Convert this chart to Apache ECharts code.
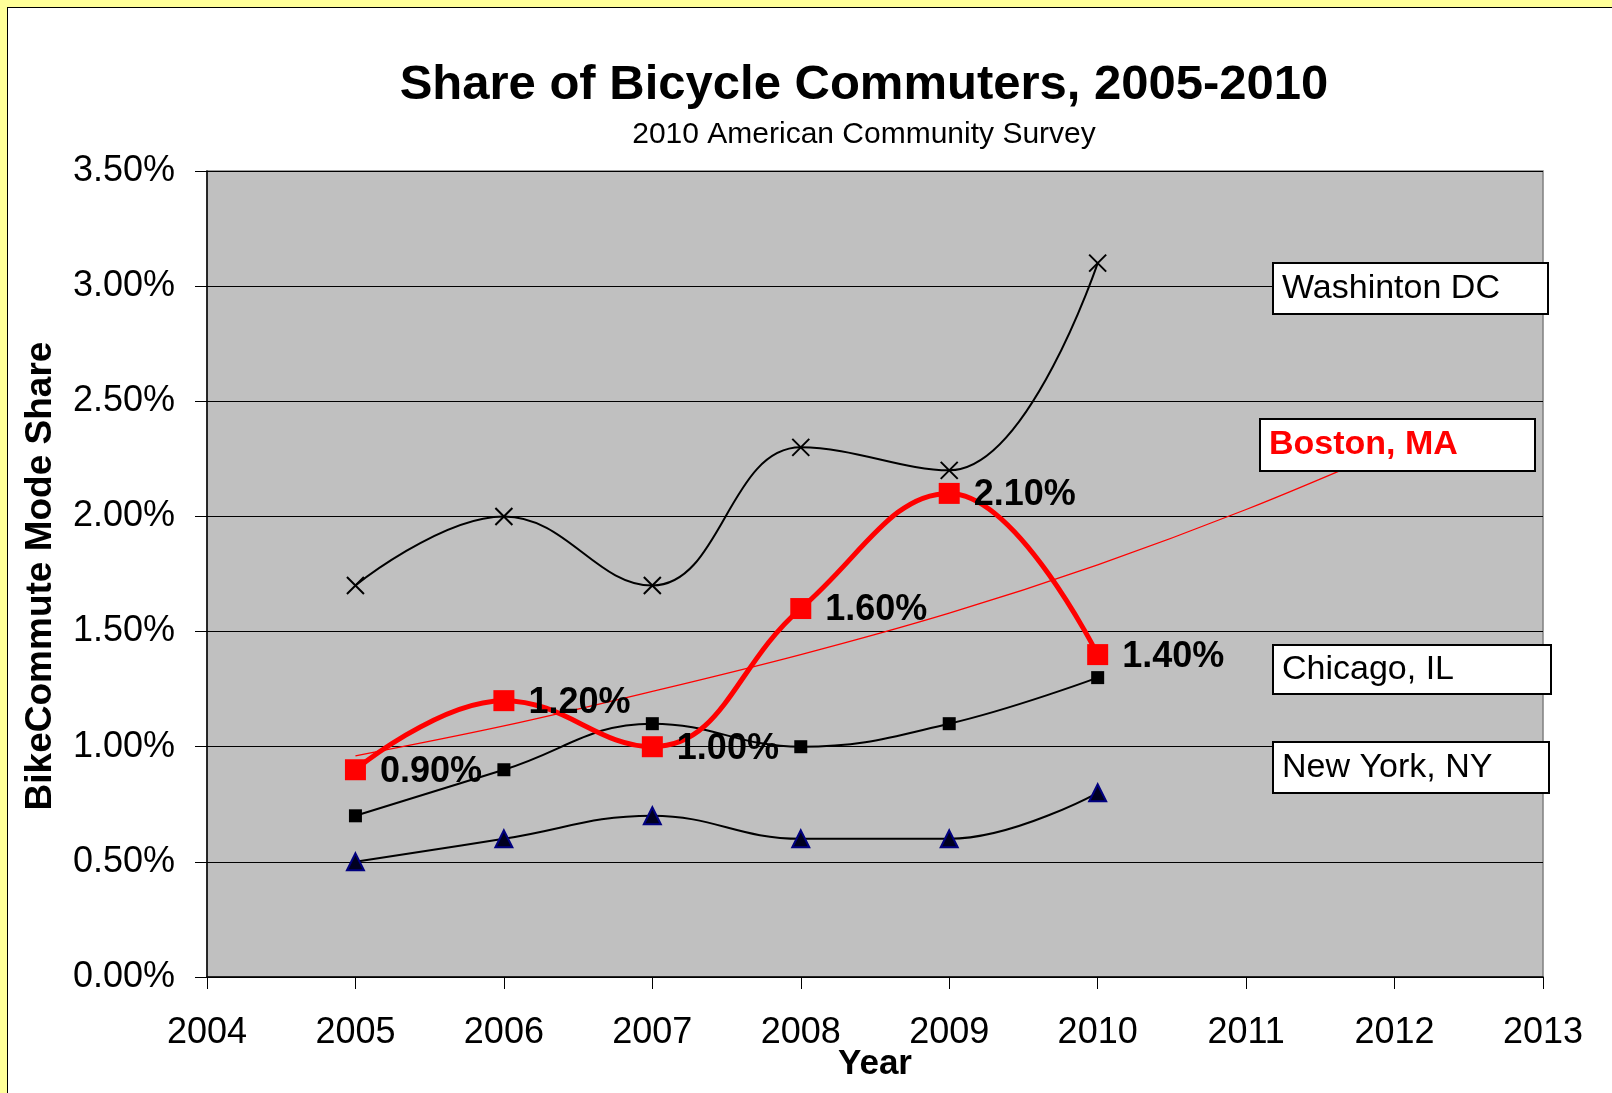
<!DOCTYPE html>
<html>
<head>
<meta charset="utf-8">
<title>Share of Bicycle Commuters, 2005-2010</title>
<script src="https://cdn.jsdelivr.net/npm/echarts@6/dist/echarts.min.js"></script>
<style>
  html, body { margin: 0; padding: 0; width: 1612px; height: 1093px; overflow: hidden; background: #FFFF99; }
  #frame { position: absolute; left: 7px; top: 7px; width: 1700px; height: 1200px; background: #fff;
           border-left: 1.5px solid #000; border-top: 1.5px solid #000; }
  #main { position: absolute; left: 0; top: 0; width: 1612px; height: 1093px; }
</style>
</head>
<body>
<div id="frame"></div>
<div id="main"></div>
<script>
// data (values in %)
const years = [2005, 2006, 2007, 2008, 2009, 2010];
const washington = [1.7, 2.0, 1.7, 2.3, 2.2, 3.1];
const boston = [0.9, 1.2, 1.0, 1.6, 2.1, 1.4];
const chicago = [0.7, 0.9, 1.1, 1.0, 1.1, 1.3];
const newYork = [0.5, 0.6, 0.7, 0.6, 0.6, 0.8];
// Boston trend line (exponential, as drawn in the chart)
const trendYears = [2005, 2006, 2007, 2008, 2009, 2010, 2011, 2012];
const bostonTrend = [0.96, 1.09, 1.24, 1.40, 1.58, 1.79, 2.03, 2.30];

const FONT = '"Liberation Sans", Arial, Helvetica, sans-serif';

function pairs(xs, ys) {
  return xs.map((x, i) => [x, ys[i]]);
}

// boxes on the right, used as series names
function nameBox(x, y, w, h, text, color, bold) {
  return [
    {
      type: 'rect', z: 100,
      shape: { x: x, y: y, width: w, height: h },
      style: { fill: '#fff', stroke: '#000', lineWidth: 2 }
    },
    {
      type: 'text', z: 101, x: x + 9, y: y + h / 2,
      style: {
        text: text, fill: color,
        font: (bold ? 'bold ' : '') + '34px ' + FONT,
        textAlign: 'left', textVerticalAlign: 'middle'
      }
    }
  ];
}

const chart = echarts.init(document.getElementById('main'), null, { renderer: 'canvas' });

const option = {
  backgroundColor: 'transparent',
  animation: false,
  grid: {
    left: 207, top: 171, right: 69, bottom: 116,
    show: true, backgroundColor: '#C0C0C0',
    borderColor: '#808080', borderWidth: 1.5
  },
  xAxis: {
    type: 'value', min: 2004, max: 2013, interval: 1,
    axisLine: { lineStyle: { color: '#000', width: 1.5 } },
    axisTick: { show: true, length: 12, lineStyle: { color: '#000', width: 1 } },
    axisLabel: {
      color: '#000', fontSize: 36, fontFamily: FONT, margin: 38,
      formatter: v => String(v)
    },
    splitLine: { show: false }
  },
  yAxis: {
    type: 'value', min: 0, max: 3.5, interval: 0.5,
    axisLine: { show: true, lineStyle: { color: '#000', width: 1.5 } },
    axisTick: { show: true, length: 12, lineStyle: { color: '#000', width: 1 } },
    axisLabel: {
      color: '#000', fontSize: 36, fontFamily: FONT, margin: 32,
      formatter: v => v.toFixed(2) + '%'
    },
    splitLine: { show: true, lineStyle: { color: '#000', width: 1 } }
  },
  series: [
    {
      name: 'Washinton DC', type: 'line', z: 3,
      data: pairs(years, washington),
      smooth: 0.42,
      symbol: 'path://M0,0L10,10M10,0L0,10', symbolSize: 17,
      itemStyle: { color: '#000', borderColor: '#000', borderWidth: 2 },
      lineStyle: { color: '#000', width: 2 }
    },
    {
      name: 'Chicago, IL', type: 'line', z: 3,
      data: pairs(years, chicago),
      smooth: 0.42,
      symbol: 'rect', symbolSize: 13,
      itemStyle: { color: '#000' },
      lineStyle: { color: '#000', width: 2 }
    },
    {
      name: 'New York, NY', type: 'line', z: 3,
      data: pairs(years, newYork),
      smooth: 0.42,
      symbol: 'triangle', symbolSize: 17,
      itemStyle: { color: '#000020', borderColor: '#000080', borderWidth: 2 },
      lineStyle: { color: '#000', width: 2 }
    },
    {
      name: 'Boston trend', type: 'line', z: 4,
      data: pairs(trendYears, bostonTrend),
      smooth: 0.35, showSymbol: false,
      lineStyle: { color: '#FF0000', width: 1.3 }
    },
    {
      name: 'Boston, MA', type: 'line', z: 5,
      data: pairs(years, boston),
      smooth: 0.42,
      symbol: 'rect', symbolSize: 21,
      itemStyle: { color: '#FF0000' },
      lineStyle: { color: '#FF0000', width: 5 },
      label: {
        show: true, position: 'right', distance: 14, offset: [0, 2],
        color: '#000', fontSize: 36, fontWeight: 'bold', fontFamily: FONT,
        formatter: p => p.value[1].toFixed(2) + '%'
      }
    }
  ],
  graphic: [
    {
      type: 'text', x: 864, y: 85,
      style: {
        text: 'Share of Bicycle Commuters, 2005-2010', fill: '#000',
        font: 'bold 49px ' + FONT, textAlign: 'center', textVerticalAlign: 'middle'
      }
    },
    {
      type: 'text', x: 864, y: 135,
      style: {
        text: '2010 American Community Survey', fill: '#000',
        font: '30px ' + FONT, textAlign: 'center', textVerticalAlign: 'middle'
      }
    },
    {
      type: 'text', x: 41, y: 576, rotation: Math.PI / 2,
      style: {
        text: 'BikeCommute Mode Share', fill: '#000',
        font: 'bold 37px ' + FONT, textAlign: 'center', textVerticalAlign: 'middle'
      }
    },
    {
      type: 'text', x: 875, y: 1064,
      style: {
        text: 'Year', fill: '#000',
        font: 'bold 35px ' + FONT, textAlign: 'center', textVerticalAlign: 'middle'
      }
    }
  ]
    .concat(nameBox(1273, 263, 275, 51, 'Washinton DC', '#000', false))
    .concat(nameBox(1260, 419, 275, 52, 'Boston, MA', '#FF0000', true))
    .concat(nameBox(1273, 645, 278, 49, 'Chicago, IL', '#000', false))
    .concat(nameBox(1273, 742, 276, 51, 'New York, NY', '#000', false))
};

chart.setOption(option);
</script>
</body>
</html>
